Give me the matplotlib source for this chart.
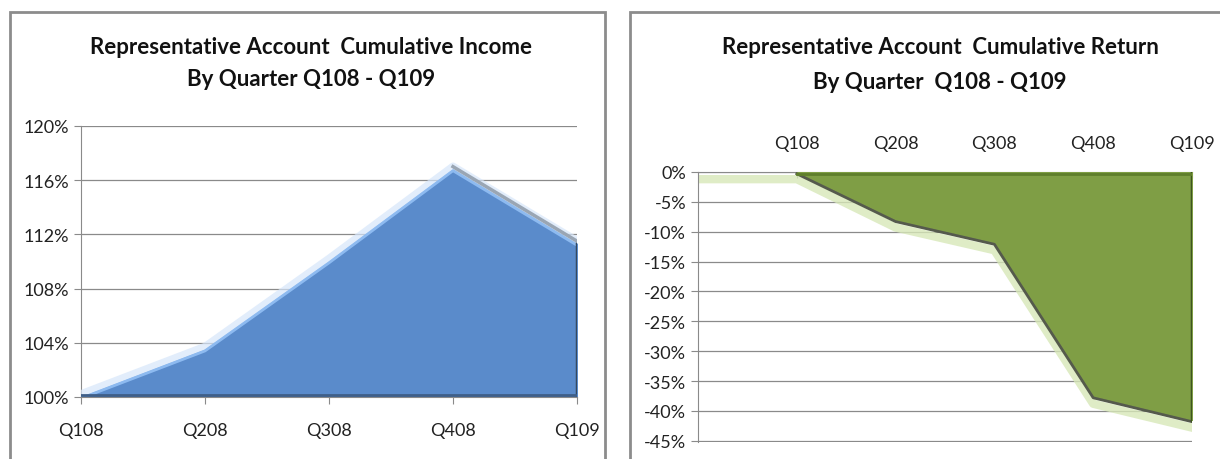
import matplotlib.pyplot as plt
import matplotlib.patches as patches
from matplotlib.ticker import FuncFormatter

# data
quarters = ['Q108', 'Q208', 'Q308', 'Q408', 'Q109']
income = [100.0, 103.5, 110.0, 116.8, 111.3]
ret = [0.0, -8.0, -11.8, -37.5, -41.5]

income_ticks = [100, 104, 108, 112, 116, 120]
return_ticks = [0, -5, -10, -15, -20, -25, -30, -35, -40, -45]

plt.rcParams['font.family'] = ['Lato', 'DejaVu Sans']

fig = plt.figure(figsize=(12.2, 4.6), dpi=100)
W, H = 1220, 460

def fx(px):
    return px / W

def fy(py):
    return 1 - py / H

# panel borders
for x0, x1 in [(10, 605), (630, 1225)]:
    fig.patches.append(patches.Rectangle((fx(x0), fy(470)), fx(x1 - x0), (470 - 13) / H,
                                         transform=fig.transFigure, fill=False,
                                         edgecolor='#8c8c8c', linewidth=2))

grid_c = '#8a8a8a'
pct = FuncFormatter(lambda v, p: '%d%%' % round(v))

# ---- left: cumulative income
ax1 = fig.add_axes([fx(81), fy(398), fx(577 - 81), (398 - 127) / H])
x = list(range(len(quarters)))
ax1.fill_between(x, 100, income, color='#5a8bcb', zorder=2)
ax1.plot(x, [v + 0.25 for v in income], color='#d6e6fa', lw=5, alpha=0.7, zorder=3)
ax1.plot(x, [v - 0.1 for v in income], color='#8dbaf0', lw=2, zorder=3)
ax1.plot([3, 4], [income[3] + 0.2, income[4] + 0.2], color='#9aa6b4', lw=2.5, zorder=3)
ax1.plot([4, 4], [100, income[4]], color='#34495f', lw=2.5, zorder=3)
ax1.plot([0, 4], [100.15, 100.15], color='#3f5f88', lw=2, zorder=3)
ax1.set_xlim(0, 4)
ax1.set_ylim(100, 120)
ax1.set_yticks(income_ticks)
ax1.yaxis.set_major_formatter(pct)
ax1.set_xticks(x)
ax1.set_xticklabels(quarters)
ax1.grid(axis='y', color=grid_c, lw=0.9, zorder=0)
for s in ['top', 'right']:
    ax1.spines[s].set_visible(False)
for s in ['left', 'bottom']:
    ax1.spines[s].set_color(grid_c)
ax1.tick_params(axis='both', colors=grid_c, labelcolor='#222222', labelsize=13, length=5)
ax1.tick_params(axis='x', pad=13)
fig.text(fx(311), fy(48), 'Representative Account  Cumulative Income', ha='center', va='center',
         fontsize=16, fontweight='bold', color='#111111')
fig.text(fx(311), fy(80), 'By Quarter Q108 - Q109', ha='center', va='center',
         fontsize=16, fontweight='bold', color='#111111')

# ---- right: cumulative return
ax2 = fig.add_axes([fx(698), fy(443), fx(1192 - 698), (443 - 173) / H])
ax2.plot([-1, 0] + x[1:], [-1.2] + [v - 1.2 for v in ret[:1]] + [v - 1.3 for v in ret[1:]],
         color='#d7e8b8', lw=6, alpha=0.8, zorder=2)
ax2.fill_between(x, 0, ret, color='#7f9e45', zorder=3)
ax2.plot(x, [v - 0.3 for v in ret], color='#555a4c', lw=2, zorder=4)
ax2.plot([4, 4], [0, ret[4]], color='#3e5520', lw=2.5, zorder=4)
ax2.plot([0, 4], [-0.3, -0.3], color='#5f7e2c', lw=2, zorder=4)
ax2.set_xlim(-1, 4)
ax2.set_ylim(-45.2, 0)
ax2.set_yticks(return_ticks)
ax2.yaxis.set_major_formatter(pct)
ax2.set_xticks(x)
ax2.set_xticklabels(quarters)
ax2.xaxis.tick_top()
ax2.grid(axis='y', color=grid_c, lw=0.9, zorder=0)
for s in ['bottom', 'right']:
    ax2.spines[s].set_visible(False)
for s in ['left', 'top']:
    ax2.spines[s].set_color(grid_c)
ax2.tick_params(axis='y', colors=grid_c, labelcolor='#222222', labelsize=13, length=5)
ax2.tick_params(axis='x', colors=grid_c, labelcolor='#222222', labelsize=13, length=4,
                direction='in', pad=15)
fig.text(fx(940), fy(48), 'Representative Account  Cumulative Return', ha='center', va='center',
         fontsize=16, fontweight='bold', color='#111111')
fig.text(fx(940), fy(83), 'By Quarter  Q108 - Q109', ha='center', va='center',
         fontsize=16, fontweight='bold', color='#111111')

fig.savefig('out.png', dpi=100)
